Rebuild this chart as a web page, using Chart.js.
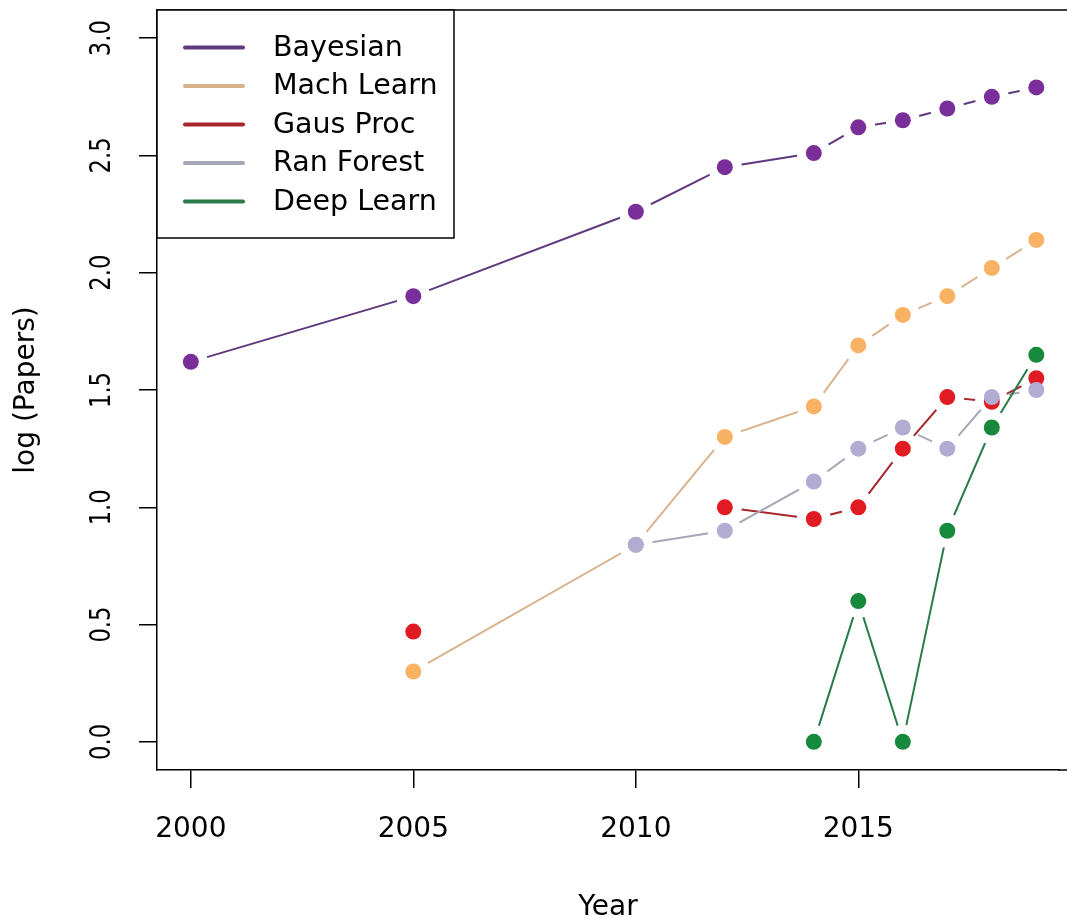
<!DOCTYPE html>
<html>
<head>
<meta charset="utf-8">
<script src="https://cdn.jsdelivr.net/npm/chart.js@4/dist/chart.umd.min.js"></script>
<style>
  html, body { margin: 0; padding: 0; background: #fff; overflow: hidden; }
  canvas { display: block; }
</style>
</head>
<body>
<canvas id="papersChart" width="1067" height="918"></canvas>
<script>
// data
const years = [2000, 2005, 2010, 2012, 2014, 2015, 2016, 2017, 2018, 2019];
const bayesian  = [1.62, 1.90, 2.26, 2.45, 2.51, 2.62, 2.65, 2.70, 2.75, 2.79];
const machLearn = [null, 0.30, 0.84, 1.30, 1.43, 1.69, 1.82, 1.90, 2.02, 2.14];
const gausProc  = [null, 0.47, null, 1.00, 0.95, 1.00, 1.25, 1.47, 1.45, 1.55];
const ranForest = [null, null, 0.84, 0.90, 1.11, 1.25, 1.34, 1.25, 1.47, 1.50];
const deepLearn = [null, null, null, null, 0.00, 0.60, 0.00, 0.90, 1.34, 1.65];

const seriesNames = ['Bayesian', 'Mach Learn', 'Gaus Proc', 'Ran Forest', 'Deep Learn'];
const seriesValues = [bayesian, machLearn, gausProc, ranForest, deepLearn];
const pointColors = ['#7a2e9a', '#f9b163', '#e01b22', '#b2acd2', '#16893c'];
const lineColors = ['#5f3a7e', '#d9b28c', '#a8262c', '#a8a7b8', '#2a7a4a'];

const xTicks = [2000, 2005, 2010, 2015];
const yTicks = [0, 0.5, 1.0, 1.5, 2.0, 2.5, 3.0];

const FONT = 'DejaVu Sans';
const gapRadius = 17;

// R type="b": leave a gap in the line around each point
const gapPlugin = {
    id: 'gaps',
    beforeDatasetDraw(chart, args) {
        const ctx = chart.ctx;
        ctx.save();
        ctx.beginPath();
        ctx.rect(0, 0, chart.width, chart.height);
        args.meta.data.forEach(pt => {
            if (pt.skip) return;
            ctx.moveTo(pt.x + gapRadius, pt.y);
            ctx.arc(pt.x, pt.y, gapRadius, 0, Math.PI * 2);
        });
        ctx.clip('evenodd');
    },
    afterDatasetDraw(chart, args) {
        const ctx = chart.ctx;
        ctx.restore();
        args.meta.data.forEach(pt => {
            if (!pt.skip) pt.draw(ctx, chart.chartArea);
        });
    }
};

// box edges out to the page edge, rotated y labels and legend
const decorPlugin = {
    id: 'decor',
    afterDraw(chart) {
        const ctx = chart.ctx;
        const ca = chart.chartArea;
        ctx.save();
        ctx.strokeStyle = '#000';
        ctx.lineWidth = 1.5;
        ctx.beginPath();
        ctx.moveTo(ca.left, ca.top);
        ctx.lineTo(chart.width, ca.top);
        ctx.moveTo(ca.right - 1, ca.bottom);
        ctx.lineTo(chart.width, ca.bottom);
        ctx.stroke();

        // y tick labels, rotated like R
        const ys = chart.scales.y;
        ctx.fillStyle = '#000';
        ctx.font = '28px "' + FONT + '"';
        ctx.textAlign = 'center';
        ctx.textBaseline = 'alphabetic';
        yTicks.forEach(v => {
            const py = ys.getPixelForValue(v);
            ctx.save();
            ctx.translate(110, py);
            ctx.rotate(-Math.PI / 2);
            ctx.scale(0.81, 1);
            ctx.fillText(v.toFixed(1), 0, 0);
            ctx.restore();
        });

        // legend
        const lx = ca.left, ly = ca.top, lw = 297, lh = 228;
        ctx.fillStyle = '#fff';
        ctx.fillRect(lx, ly, lw, lh);
        ctx.strokeRect(lx, ly, lw, lh);
        ctx.font = '28.5px "' + FONT + '"';
        ctx.textAlign = 'left';
        ctx.textBaseline = 'middle';
        seriesNames.forEach((name, i) => {
            const ry = ly + 37.5 + i * 38.5;
            ctx.strokeStyle = lineColors[i];
            ctx.lineWidth = 4;
            ctx.lineCap = 'round';
            ctx.beginPath();
            ctx.moveTo(lx + 28, ry);
            ctx.lineTo(lx + 86, ry);
            ctx.stroke();
            ctx.fillStyle = '#000';
            ctx.fillText(name, lx + 116, ry + 1);
        });
        ctx.restore();
    }
};

const datasets = seriesNames.map((name, i) => ({
    label: name,
    data: years.map((yr, j) => ({ x: yr, y: seriesValues[i][j] })),
    borderColor: lineColors[i],
    borderWidth: 2,
    backgroundColor: pointColors[i],
    pointBackgroundColor: pointColors[i],
    pointBorderWidth: 0,
    pointRadius: 8,
    pointHoverRadius: 8,
    spanGaps: false,
    tension: 0,
    fill: false,
    order: seriesNames.length - i
}));

new Chart(document.getElementById('papersChart').getContext('2d'), {
    type: 'line',
    data: { datasets: datasets },
    options: {
        responsive: false,
        animation: false,
        layout: { padding: { left: 0, top: 10, right: 0, bottom: 0 } },
        plugins: {
            legend: { display: false },
            tooltip: { enabled: false }
        },
        scales: {
            x: {
                type: 'linear',
                min: 1999.24,
                max: 2019.51,   // line controller keeps ~8px free on the right
                afterBuildTicks: s => { s.ticks = xTicks.map(v => ({ value: v })); },
                afterFit: s => { s.height = 148; },
                ticks: {
                    callback: v => String(v),
                    color: '#000',
                    font: { family: FONT, size: 28 },
                    maxRotation: 0,
                    autoSkip: false,
                    padding: 25
                },
                grid: { drawOnChartArea: false, drawTicks: true, tickLength: 18, color: '#000', lineWidth: 1.5 },
                border: { display: true, color: '#000', width: 1.5 },
                title: {
                    display: true,
                    text: 'Year',
                    color: '#000',
                    font: { family: FONT, size: 28 },
                    padding: { top: 0, bottom: -7 }
                }
            },
            y: {
                type: 'linear',
                min: -0.12,
                max: 3.12,
                afterBuildTicks: s => { s.ticks = yTicks.map(v => ({ value: v })); },
                afterFit: s => { s.width = 157; },
                ticks: { display: false },
                grid: { drawOnChartArea: false, drawTicks: true, tickLength: 18, color: '#000', lineWidth: 1.5 },
                border: { display: true, color: '#000', width: 1.5 },
                title: {
                    display: true,
                    text: 'log (Papers)',
                    color: '#000',
                    font: { family: FONT, size: 28 },
                    padding: { top: 10, bottom: 0 }
                }
            }
        }
    },
    plugins: [gapPlugin, decorPlugin]
});
</script>
</body>
</html>
